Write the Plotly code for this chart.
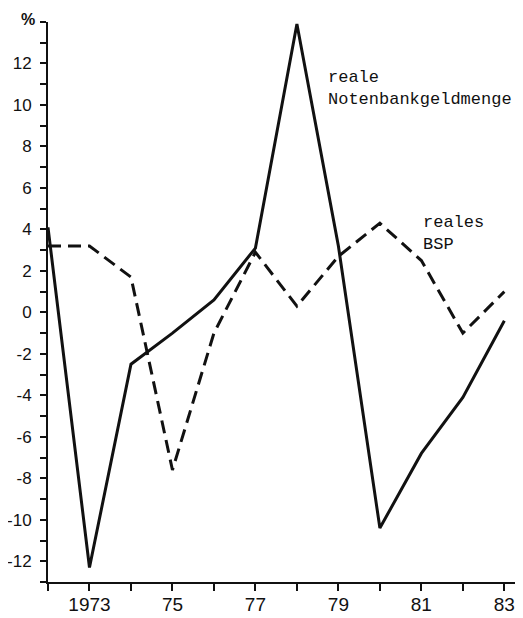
import plotly.graph_objects as go

# Jahreswerte, Veränderung gegenüber Vorjahr in %
years = [1972, 1973, 1974, 1975, 1976, 1977, 1978, 1979, 1980, 1981, 1982, 1983]
notenbankgeld = [4.1, -12.3, -2.5, -1.0, 0.6, 3.1, 13.9, 3.2, -10.4, -6.8, -4.1, -0.4]
bsp = [3.2, 3.2, 1.7, -7.6, -1.0, 2.9, 0.3, 2.7, 4.3, 2.5, -1.0, 1.0]

x_ticks = [1972, 1973, 1974, 1975, 1976, 1977, 1978, 1979, 1980, 1981, 1982, 1983]
x_labels = ["", "1973", "", "75", "", "77", "", "79", "", "81", "", "83"]
y_ticks = list(range(-13, 15))
y_labels = ["-12", "-10", "-8", "-6", "-4", "-2", "0", "2", "4", "6", "8", "10", "12"]

tick_font = "Liberation Sans, Arial, sans-serif"
mono_font = "Liberation Mono, DejaVu Sans Mono, monospace"
ink = "#111111"

# only even values carry a label, odd values get a bare tick
y_text = [str(v) if str(v) in y_labels else "" for v in y_ticks]

fig = go.Figure()

fig.add_trace(go.Scatter(x=years, y=bsp, mode="lines", name="reales BSP",
                         line=dict(color=ink, width=3, dash="13px,7px")))
fig.add_trace(go.Scatter(x=years, y=notenbankgeld, mode="lines",
                         name="reale Notenbankgeldmenge",
                         line=dict(color=ink, width=3)))

fig.add_annotation(x=1978.7, y=10.8, xref="x", yref="y",
                   text="reale<br>Notenbankgeldmenge", showarrow=False,
                   xanchor="left", yanchor="middle", align="left",
                   font=dict(family=mono_font, size=17, color=ink))
fig.add_annotation(x=1981.0, y=3.8, xref="x", yref="y",
                   text="reales<br>BSP", showarrow=False,
                   xanchor="left", yanchor="middle", align="left",
                   font=dict(family=mono_font, size=17, color=ink))
fig.add_annotation(x=-0.042, y=1.023, xref="paper", yref="paper",
                   text="<b>%</b>", showarrow=False,
                   xanchor="center", yanchor="top",
                   font=dict(family=tick_font, size=16, color=ink))

# the page body has an 8px margin, so the figure is 8px smaller each way
fig.update_layout(
    width=515, height=610,
    margin=dict(l=40, r=0, t=14, b=36, autoexpand=False),
    plot_bgcolor="white", paper_bgcolor="white",
    showlegend=False,
    xaxis=dict(range=[1972, 1983.45], tickvals=x_ticks, ticktext=x_labels,
               showline=True, linecolor=ink, linewidth=2,
               ticks="outside", ticklen=7, tickwidth=2, tickcolor=ink,
               ticklabelstandoff=-3, automargin=False,
               showgrid=False, zeroline=False,
               tickfont=dict(family=tick_font, size=19, color=ink)),
    yaxis=dict(range=[-13, 14], tickvals=y_ticks, ticktext=y_text,
               showline=True, linecolor=ink, linewidth=2,
               ticks="outside", ticklen=6, tickwidth=2, tickcolor=ink,
               ticklabelstandoff=5, automargin=False,
               showgrid=False, zeroline=False,
               tickfont=dict(family=tick_font, size=17, color=ink)),
)

fig.write_html("out.html")
